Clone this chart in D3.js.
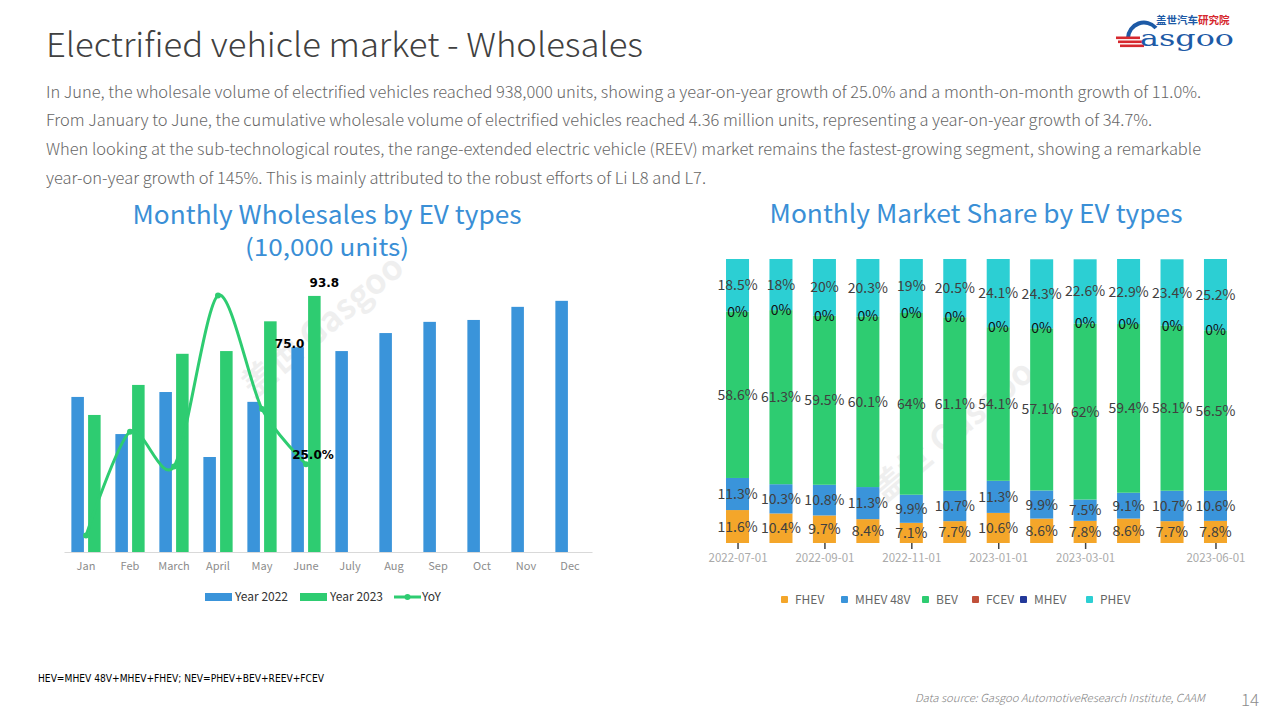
<!DOCTYPE html>
<html><head><meta charset="utf-8">
<script src="https://cdn.jsdelivr.net/npm/d3@7"></script>
<style>
html,body{margin:0;padding:0;background:#fff;}
svg{display:block;}
</style></head>
<body>
<svg id="c" width="1280" height="720"></svg>
<script>
// ---------- DATA ----------
const months = ['Jan','Feb','March','April','May','June','July','Aug','Sep','Oct','Nov','Dec'];
const sales2022 = [56.8,43.2,58.6,34.8,55.0,75.0,73.6,80.2,84.3,85.0,89.8,92.0];
const sales2023 = [50.2,61.2,72.6,73.6,84.5,93.8];
const yoy = [-11.6,41.7,23.9,111.5,53.3,25.0];
const leftLegend = ['Year 2022','Year 2023','YoY'];

const shareDates = ['2022-07-01','2022-08-01','2022-09-01','2022-10-01','2022-11-01','2022-12-01','2023-01-01','2023-02-01','2023-03-01','2023-04-01','2023-05-01','2023-06-01'];
const shareTicks = ['2022-07-01','2022-09-01','2022-11-01','2023-01-01','2023-03-01','2023-06-01'];
const shareKeys = ['FHEV','MHEV 48V','BEV','FCEV','MHEV','PHEV'];
const fhev   = [11.6,10.4,9.7,8.4,7.1,7.7,10.6,8.6,7.8,8.6,7.7,7.8];
const mhev48 = [11.3,10.3,10.8,11.3,9.9,10.7,11.3,9.9,7.5,9.1,10.7,10.6];
const bev    = [58.6,61.3,59.5,60.1,64,61.1,54.1,57.1,62,59.4,58.1,56.5];
const fcev   = [0,0,0,0,0,0,0,0,0,0,0,0];
const mhev   = [0,0,0,0,0,0,0,0,0,0,0,0];
const phev   = [18.5,18,20,20.3,19,20.5,24.1,24.3,22.6,22.9,23.4,25.2];

const bodyLines = [
 'In June, the wholesale volume of electrified vehicles reached 938,000 units, showing a year-on-year growth of 25.0% and a month-on-month growth of 11.0%.',
 'From January to June, the cumulative wholesale volume of electrified vehicles reached 4.36 million units, representing a year-on-year growth of 34.7%.',
 'When looking at the sub-technological routes, the range-extended electric vehicle (REEV) market remains the fastest-growing segment, showing a remarkable',
 'year-on-year growth of 145%. This is mainly attributed to the robust efforts of Li L8 and L7.'
];

// ---------- STYLE ----------
const BLUE = '#3a94da', GREEN = '#2ecc71';
const shareColors = {'FHEV':'#f4a62a','MHEV 48V':'#3a94da','BEV':'#2ecc71','FCEV':'#c1503a','MHEV':'#23399a','PHEV':'#2ccfd3'};
const FONT = '"Noto Sans CJK SC","Noto Sans",sans-serif';

const svg = d3.select('#c');

// ---------- HEADER ----------
svg.append('text').attr('x',46).attr('y',57).attr('font-family',FONT).attr('font-weight',300)
  .attr('font-size',33).attr('fill','#404040').attr('textLength',597).attr('lengthAdjust','spacingAndGlyphs')
  .text('Electrified vehicle market - Wholesales');

const bodyW = [1155,1106,1155,660];
const bodyY = [98,126,155,184];
bodyLines.forEach((t,i)=>{
  svg.append('text').attr('x',46).attr('y',bodyY[i]).attr('font-family',FONT).attr('font-weight',300)
    .attr('font-size',16).attr('fill','#666').attr('textLength',bodyW[i]).attr('lengthAdjust','spacingAndGlyphs').text(t);
});

// logo
const logo = svg.append('g');
logo.append('text').attr('x',1156).attr('y',24).attr('font-family',FONT).attr('font-weight',700).attr('font-size',10.5)
  .attr('fill','#1d5aa6').text('盖世汽车').append('tspan').attr('fill','#d6282e').text('研究院');
logo.append('path').attr('d','M1128,38 A16,16 0 0 1 1156,28').attr('fill','none').attr('stroke','#1d5aa6').attr('stroke-width',4);
[38,42,46].forEach((y,i)=>logo.append('rect').attr('x',1116+i*2).attr('y',y-1.5).attr('width',24).attr('height',2.6).attr('fill','#d6282e'));
logo.append('text').attr('x',1140).attr('y',46).attr('font-family','"DejaVu Serif",serif').attr('font-size',22)
  .attr('fill','#1d5aa6').attr('textLength',94).attr('lengthAdjust','spacingAndGlyphs').text('asgoo');

// watermarks
function watermark(x,y){
  const g = svg.append('g').attr('transform',`translate(${x},${y}) rotate(-40)`).attr('opacity',0.06);
  g.append('text').attr('font-family',FONT).attr('font-size',34).attr('font-weight',700).attr('fill','#000')
    .attr('text-anchor','middle').text('盖世 Gasgoo');
}
watermark(330,335);
watermark(960,440);

// ---------- LEFT CHART ----------
svg.append('text').attr('x',327).attr('y',224).attr('text-anchor','middle').attr('font-family',FONT)
  .attr('font-size',25).attr('fill','#3a8fd6').attr('textLength',389).attr('lengthAdjust','spacingAndGlyphs')
  .text('Monthly Wholesales by EV types');
svg.append('text').attr('x',327).attr('y',256).attr('text-anchor','middle').attr('font-family',FONT)
  .attr('font-size',24).attr('fill','#3a8fd6').attr('textLength',164).attr('lengthAdjust','spacingAndGlyphs')
  .text('(10,000 units)');

const x0 = d3.scaleBand().domain(months).range([64,592]).paddingInner(0.335).paddingOuter(0.1675);
const x1 = d3.scaleBand().domain(['2022','2023']).range([0,x0.bandwidth()]).paddingInner(0.25);
const yL = d3.scaleLinear().domain([0,100]).range([552,279]);
const yR = d3.scaleLinear().domain([-20,120]).range([552,279]);

const gL = svg.append('g');
gL.selectAll('.b22').data(sales2022).join('rect')
  .attr('x',(d,i)=>x0(months[i])+x1('2022')).attr('width',x1.bandwidth())
  .attr('y',d=>yL(d)).attr('height',d=>yL(0)-yL(d)).attr('fill',BLUE);
gL.selectAll('.b23').data(sales2023).join('rect')
  .attr('x',(d,i)=>x0(months[i])+x1('2023')).attr('width',x1.bandwidth())
  .attr('y',d=>yL(d)).attr('height',d=>yL(0)-yL(d)).attr('fill',GREEN);

// axis
const xAxis = d3.axisBottom(d3.scaleBand().domain(months).range([64,592])).tickSize(0).tickPadding(10);
const ax = svg.append('g').attr('transform','translate(0,552)').call(xAxis);
ax.select('.domain').attr('stroke','#d9d9d9');
ax.selectAll('text').attr('font-family',FONT).attr('font-size',11).attr('fill','#8c8c8c');

// YoY line
const cx = i => x0(months[i]) + x0.bandwidth()/2;
const line = d3.line().x((d,i)=>cx(i)).y(d=>yR(d)).curve(d3.curveCardinal.tension(0.15));
gL.append('path').datum(yoy).attr('d',line).attr('fill','none').attr('stroke',GREEN).attr('stroke-width',3);
gL.selectAll('.dot').data(yoy).join('circle').attr('cx',(d,i)=>cx(i)).attr('cy',d=>yR(d)).attr('r',3).attr('fill',GREEN);

// data labels
const lblStyle = s => s.attr('font-family','"DejaVu Sans",sans-serif').attr('font-size',12).attr('font-weight',600).attr('fill','#000').attr('text-anchor','middle');
gL.append('text').call(lblStyle).attr('x',x0('June')+x1('2022')+x1.bandwidth()/2-8).attr('y',yL(sales2022[5])+1).text(sales2022[5].toFixed(1));
gL.append('text').call(lblStyle).attr('x',x0('June')+x1('2023')+x1.bandwidth()/2+10).attr('y',yL(sales2023[5])-9).text(sales2023[5].toFixed(1));
gL.append('text').call(lblStyle).attr('x',cx(5)+7).attr('y',yR(yoy[5])-5).text(yoy[5].toFixed(1)+'%');

// legend left
const lg = svg.append('g').attr('font-family',FONT).attr('font-size',12).attr('fill','#333');
lg.append('rect').attr('x',205).attr('y',593).attr('width',27).attr('height',8).attr('fill',BLUE);
lg.append('text').attr('x',235).attr('y',601).text(leftLegend[0]);
lg.append('rect').attr('x',300).attr('y',593).attr('width',27).attr('height',8).attr('fill',GREEN);
lg.append('text').attr('x',330).attr('y',601).text(leftLegend[1]);
lg.append('line').attr('x1',394).attr('x2',421).attr('y1',597).attr('y2',597).attr('stroke',GREEN).attr('stroke-width',3);
lg.append('circle').attr('cx',407.5).attr('cy',597).attr('r',3).attr('fill',GREEN);
lg.append('text').attr('x',422).attr('y',601).text(leftLegend[2]);

// ---------- RIGHT CHART ----------
svg.append('text').attr('x',976).attr('y',223).attr('text-anchor','middle').attr('font-family',FONT)
  .attr('font-size',25).attr('fill','#3a8fd6').attr('textLength',413).attr('lengthAdjust','spacingAndGlyphs')
  .text('Monthly Market Share by EV types');

const shareRows = shareDates.map((d,i)=>({date:d,'FHEV':fhev[i],'MHEV 48V':mhev48[i],'BEV':bev[i],'FCEV':fcev[i],'MHEV':mhev[i],'PHEV':phev[i]}));
const stack = d3.stack().keys(shareKeys)(shareRows);
const xs = d3.scaleBand().domain(shareDates).range([715.8,1237.2]).paddingInner(0.47).paddingOuter(0.235);
const ys = d3.scaleLinear().domain([0,100]).range([543,259]).clamp(true);

const gR = svg.append('g');
stack.forEach(layer=>{
  gR.selectAll(null).data(layer).join('rect')
    .attr('x',d=>xs(d.data.date)).attr('width',xs.bandwidth())
    .attr('y',d=>ys(d[1])).attr('height',d=>ys(d[0])-ys(d[1]))
    .attr('fill',shareColors[layer.key]);
});
// labels
stack.forEach(layer=>{
  if(layer.key==='MHEV') return;
  gR.selectAll(null).data(layer).join('text')
    .attr('x',d=>xs(d.data.date)+xs.bandwidth()/2)
    .attr('y',d=>(ys(d[0])+ys(d[1]))/2+5)
    .attr('text-anchor','middle').attr('font-family',FONT).attr('font-size',14)
    .attr('fill',layer.key==='FCEV'?'#111':'#404040')
    .text(d=>{const v=d.data[layer.key]; return v+'%';});
});
// ticks
const ra = svg.append('g').attr('transform','translate(0,543)')
  .call(d3.axisBottom(d3.scalePoint().domain(shareDates).range([xs(shareDates[0])+xs.bandwidth()/2, xs(shareDates[11])+xs.bandwidth()/2]))
    .tickValues(shareTicks).tickSize(6).tickPadding(5));
ra.select('.domain').remove();
ra.selectAll('line').attr('stroke','#444').attr('stroke-width',1.5);
ra.selectAll('text').attr('font-family',FONT).attr('font-size',11.5).attr('fill','#aaa');

// legend right
const legX = [781,841,922,972,1020,1086];
const rl = svg.append('g').attr('font-family',FONT).attr('font-size',12).attr('fill','#666');
shareKeys.forEach((k,i)=>{
  rl.append('rect').attr('x',legX[i]).attr('y',596).attr('width',7).attr('height',7).attr('rx',1).attr('fill',shareColors[k]);
  rl.append('text').attr('x',legX[i]+14).attr('y',604).text(k);
});

// ---------- FOOTER ----------
svg.append('text').attr('x',38).attr('y',682).attr('font-family','"Liberation Sans Narrow","DejaVu Sans Condensed",sans-serif')
  .attr('font-size',10.5).attr('fill','#000').attr('textLength',286).attr('lengthAdjust','spacingAndGlyphs')
  .text('HEV=MHEV 48V+MHEV+FHEV; NEV=PHEV+BEV+REEV+FCEV');
svg.append('text').attr('x',915).attr('y',702).attr('font-family',FONT).attr('font-style','italic').attr('font-weight',300)
  .attr('font-size',11).attr('fill','#7f7f7f').attr('textLength',290).attr('lengthAdjust','spacingAndGlyphs')
  .text('Data source: Gasgoo AutomotiveResearch Institute, CAAM');
svg.append('text').attr('x',1241).attr('y',706).attr('font-family',FONT).attr('font-weight',300)
  .attr('font-size',17).attr('fill','#8c8c8c').text('14');
</script>
</body></html>
